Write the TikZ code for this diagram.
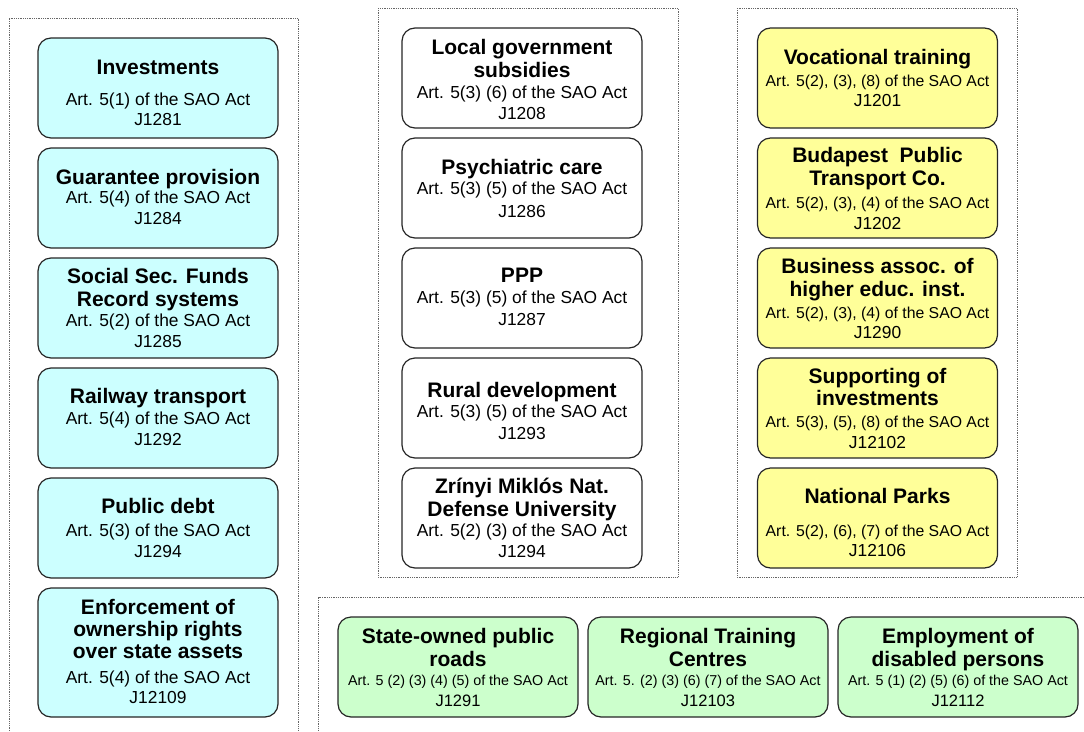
\documentclass[tikz,border=0pt]{standalone}
\usepackage{fontspec}
\setmainfont{Liberation Sans}
\begin{document}
\begin{tikzpicture}[x=1pt,y=-1pt,
  frame/.style={draw=black!60, line width=0.8pt, dash pattern=on 0.9pt off 0.9pt},
  card/.style={draw=black!85, line width=1.2pt, rounded corners=13pt,
    minimum width=240pt, minimum height=100pt, inner sep=0pt},
  cyancard/.style={card, fill=cyanbox},
  whitecard/.style={card, fill=white},
  yellowcard/.style={card, fill=yellowbox},
  greencard/.style={card, fill=greenbox},
  ttl/.style={anchor=base, inner sep=0pt, font=\fontsize{21}{24}\selectfont\bfseries},
  bdy/.style={anchor=base, inner sep=0pt, font=\fontsize{17.4}{21}\selectfont},
  bdys/.style={anchor=base, inner sep=0pt, font=\fontsize{15.8}{19}\selectfont},
  bdyg/.style={anchor=base, inner sep=0pt, font=\fontsize{14.3}{17}\selectfont},
  bdyj/.style={anchor=base, inner sep=0pt, font=\fontsize{16.5}{19}\selectfont},
]
\definecolor{cyanbox}{HTML}{CCFFFF}
\definecolor{yellowbox}{HTML}{FFFF99}
\definecolor{greenbox}{HTML}{CCFFCC}
\useasboundingbox (0,0) rectangle (1084,731);

% group frames
\draw[frame] (9,731) -- (9,18) -- (298,18) -- (298,731);
\draw[frame] (378,8) rectangle (678,577);
\draw[frame] (737,8) rectangle (1017,577);
\draw[frame] (1084,597) -- (318.5,597) -- (318.5,731);

% left column
\node[cyancard] (l1) at (158,88) {};
\node[ttl] (l1t) at (158,74) {Investments};
\node[bdy] (l1a) at (158,105) {Art. 5(1) of the SAO Act};
\node[bdy] (l1b) at (158,125) {J1281};

\node[cyancard] (l2) at (158,198) {};
\node[ttl] (l2t) at (158,184) {Guarantee provision};
\node[bdy] (l2a) at (158,203) {Art. 5(4) of the SAO Act};
\node[bdy] (l2b) at (158,224) {J1284};

\node[cyancard] (l3) at (158,308) {};
\node[ttl] (l3t) at (158,283) {Social Sec. Funds};
\node[ttl] (l3u) at (158,306) {Record systems};
\node[bdy] (l3a) at (158,326) {Art. 5(2) of the SAO Act};
\node[bdy] (l3b) at (158,347) {J1285};

\node[cyancard] (l4) at (158,418) {};
\node[ttl] (l4t) at (158,403) {Railway transport};
\node[bdy] (l4a) at (158,424) {Art. 5(4) of the SAO Act};
\node[bdy] (l4b) at (158,445) {J1292};

\node[cyancard] (l5) at (158,528) {};
\node[ttl] (l5t) at (158,513) {Public debt};
\node[bdy] (l5a) at (158,536) {Art. 5(3) of the SAO Act};
\node[bdy] (l5b) at (158,557) {J1294};

\node[cyancard, minimum height=129pt] (l6) at (158,652.5) {};
\node[ttl] (l6t) at (158,614) {Enforcement of};
\node[ttl] (l6u) at (158,636) {ownership rights};
\node[ttl] (l6v) at (158,658) {over state assets};
\node[bdy] (l6a) at (158,683) {Art. 5(4) of the SAO Act};
\node[bdy] (l6b) at (158,703) {J12109};

% middle column
\node[whitecard] (m1) at (522,78) {};
\node[ttl] (m1t) at (522,54) {Local government};
\node[ttl] (m1u) at (522,77) {subsidies};
\node[bdy] (m1a) at (522,98) {Art. 5(3) (6) of the SAO Act};
\node[bdy] (m1b) at (522,119) {J1208};

\node[whitecard] (m2) at (522,188) {};
\node[ttl] (m2t) at (522,174) {Psychiatric care};
\node[bdy] (m2a) at (522,194) {Art. 5(3) (5) of the SAO Act};
\node[bdy] (m2b) at (522,217) {J1286};

\node[whitecard] (m3) at (522,298) {};
\node[ttl] (m3t) at (522,282) {PPP};
\node[bdy] (m3a) at (522,303) {Art. 5(3) (5) of the SAO Act};
\node[bdy] (m3b) at (522,325) {J1287};

\node[whitecard] (m4) at (522,408) {};
\node[ttl] (m4t) at (522,397) {Rural development};
\node[bdy] (m4a) at (522,417) {Art. 5(3) (5) of the SAO Act};
\node[bdy] (m4b) at (522,439) {J1293};

\node[whitecard] (m5) at (522,518) {};
\node[ttl] (m5t) at (522,493) {Zrínyi Miklós Nat.};
\node[ttl] (m5u) at (522,516) {Defense University};
\node[bdy] (m5a) at (522,536) {Art. 5(2) (3) of the SAO Act};
\node[bdy] (m5b) at (522,557) {J1294};

% right column
\node[yellowcard] (r1) at (877.5,78) {};
\node[ttl] (r1t) at (877.5,64) {Vocational training};
\node[bdys] (r1a) at (877.5,86) {Art. 5(2), (3), (8) of the SAO Act};
\node[bdy] (r1b) at (877.5,106) {J1201};

\node[yellowcard] (r2) at (877.5,188) {};
\node[ttl] (r2t) at (877.5,162) {Budapest\ \ Public};
\node[ttl] (r2u) at (877.5,185) {Transport Co.};
\node[bdys] (r2a) at (877.5,208) {Art. 5(2), (3), (4) of the SAO Act};
\node[bdy] (r2b) at (877.5,229) {J1202};

\node[yellowcard] (r3) at (877.5,298) {};
\node[ttl] (r3t) at (877.5,273) {Business assoc. of};
\node[ttl] (r3u) at (877.5,296) {higher educ. inst.};
\node[bdys] (r3a) at (877.5,318) {Art. 5(2), (3), (4) of the SAO Act};
\node[bdy] (r3b) at (877.5,338) {J1290};

\node[yellowcard] (r4) at (877.5,408) {};
\node[ttl] (r4t) at (877.5,383) {Supporting of};
\node[ttl] (r4u) at (877.5,405) {investments};
\node[bdys] (r4a) at (877.5,427) {Art. 5(3), (5), (8) of the SAO Act};
\node[bdy] (r4b) at (877.5,448) {J12102};

\node[yellowcard] (r5) at (877.5,518) {};
\node[ttl] (r5t) at (877.5,503) {National Parks};
\node[bdys] (r5a) at (877.5,536) {Art. 5(2), (6), (7) of the SAO Act};
\node[bdy] (r5b) at (877.5,556) {J12106};

% bottom row
\node[greencard] (g1) at (458,667) {};
\node[ttl] (g1t) at (458,643) {State-owned public};
\node[ttl] (g1u) at (458,666) {roads};
\node[bdyg] (g1a) at (458,685) {Art. 5 (2) (3) (4) (5) of the SAO Act};
\node[bdyj] (g1b) at (458,706) {J1291};

\node[greencard] (g2) at (708,667) {};
\node[ttl] (g2t) at (708,643) {Regional Training};
\node[ttl] (g2u) at (708,666) {Centres};
\node[bdyg] (g2a) at (708,685) {Art. 5. (2) (3) (6) (7) of the SAO Act};
\node[bdyj] (g2b) at (708,706) {J12103};

\node[greencard] (g3) at (958,667) {};
\node[ttl] (g3t) at (958,643) {Employment of};
\node[ttl] (g3u) at (958,666) {disabled persons};
\node[bdyg] (g3a) at (958,685) {Art. 5 (1) (2) (5) (6) of the SAO Act};
\node[bdyj] (g3b) at (958,706) {J12112};
\end{tikzpicture}
\end{document}
